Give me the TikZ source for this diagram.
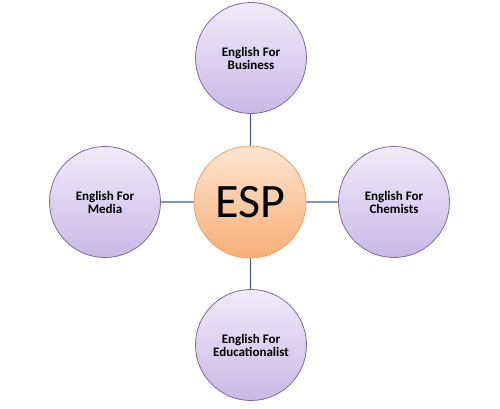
\documentclass[tikz,border=0pt]{standalone}
\usepackage{fontspec}
\setmainfont{Carlito}
\definecolor{topic}{HTML}{7F69A6}
\definecolor{topictop}{HTML}{F0EBF9}
\definecolor{topicbot}{HTML}{C8B9E6}
\definecolor{hub}{HTML}{EE9E62}
\definecolor{hubtop}{HTML}{FDE6D2}
\definecolor{hubbot}{HTML}{F8AE76}
\definecolor{link}{HTML}{3F5F86}
\begin{document}
\begin{tikzpicture}[x=1pt, y=-1pt,
    topicnode/.style={circle, draw=topic, thick, top color=topictop, bottom color=topicbot,
      minimum size=111pt, inner sep=0pt, align=center,
      font=\bfseries\fontsize{13}{13}\selectfont},
    hubnode/.style={circle, draw=hub, thick, top color=hubtop, bottom color=hubbot,
      minimum size=112pt, inner sep=0pt, font=\fontsize{48}{52}\selectfont},
    linkline/.style={draw=link, line width=1.2pt}]
      \useasboundingbox (0, 0) rectangle (500, 408);
      \node [hubnode] (esp) at (250, 202) {ESP};
      \node [topicnode] (business) at (251, 58) {English For\\Business};
      \node [topicnode] (chemists) at (394, 202) {English For\\Chemists};
      \node [topicnode] (education) at (251, 345) {English For\\Educationalist};
      \node [topicnode] (media) at (105, 202) {English For\\Media};
      \draw [linkline] (esp) -- (business)
                       (esp) -- (chemists)
                       (esp) -- (education)
                       (esp) -- (media);
\end{tikzpicture}
\end{document}
